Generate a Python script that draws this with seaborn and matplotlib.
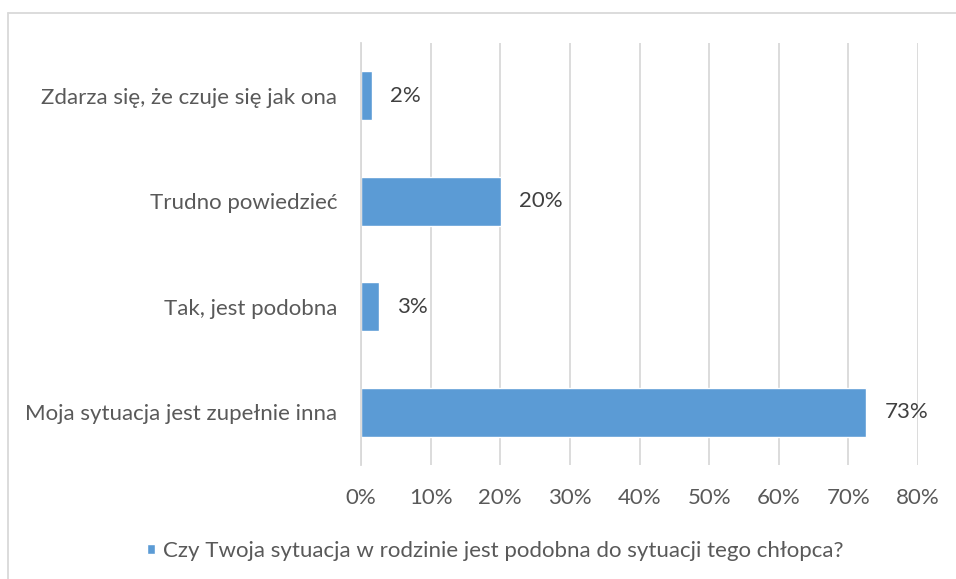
import matplotlib
matplotlib.use("Agg")
import matplotlib.pyplot as plt
import matplotlib.lines as mlines
from matplotlib.ticker import FixedLocator, FuncFormatter
import seaborn as sns

# Données (en %)
categories = [
    "Zdarza się, że czuje się jak ona",
    "Trudno powiedzieć",
    "Tak, jest podobna",
    "Moja sytuacja jest zupełnie inna",
]
values = [1.6, 20.1, 2.6, 72.6]
x_ticks = [0, 10, 20, 30, 40, 50, 60, 70, 80]
legend_label = "Czy Twoja sytuacja w rodzinie jest podobna do sytuacji tego chłopca?"

BAR_COLOR = "#5B9BD5"
GRID_COLOR = "#D9D9D9"
TEXT_COLOR = "#595959"
LABEL_COLOR = "#404040"
FS = 16

sns.set_theme(style="white")
plt.rcParams["font.family"] = ["Lato", "DejaVu Sans"]

W, H = 956, 579
fig = plt.figure(figsize=(W / 100, H / 100), dpi=100)
ax = fig.add_axes([361 / W, 1 - 465 / H, (918 - 361) / W, (465 - 43) / H])

sns.barplot(x=values, y=categories, orient="h", color=BAR_COLOR,
            width=0.46, ax=ax, label=legend_label, saturation=1)
handles, labels = ax.get_legend_handles_labels()
if ax.get_legend() is not None:
    ax.get_legend().remove()

ax.set_xlim(0, 80)
ax.set_ylim(3.5, -0.5)
ax.xaxis.set_major_locator(FixedLocator(x_ticks))
ax.xaxis.set_major_formatter(FuncFormatter(lambda v, p: f"{v:.0f}%"))
ax.set_axisbelow(True)
ax.grid(axis="x", color=GRID_COLOR, lw=1.3)
ax.grid(axis="y", visible=False)

for side in ["top", "right", "bottom"]:
    ax.spines[side].set_visible(False)
ax.spines["left"].set_color(GRID_COLOR)
ax.spines["left"].set_linewidth(1.3)

ax.tick_params(axis="x", length=0, pad=16.5, labelsize=FS, labelcolor=TEXT_COLOR)
ax.tick_params(axis="y", which="major", length=0, pad=17, labelsize=FS, labelcolor=TEXT_COLOR)
ax.yaxis.set_minor_locator(FixedLocator([-0.5, 0.5, 1.5, 2.5, 3.5]))
ax.tick_params(axis="y", which="minor", length=4.5, width=1.3, color=GRID_COLOR)
ax.set_xlabel("")
ax.set_ylabel("")

ax.bar_label(ax.containers[0], labels=[f"{v:.0f}%" for v in values],
             padding=13, fontsize=FS, color=LABEL_COLOR)

# légende en bas
fig.legend(handles, labels, loc="center left", bbox_to_anchor=(147 / W, 1 - 551 / H),
           frameon=False, fontsize=FS, labelcolor=TEXT_COLOR, borderpad=0,
           borderaxespad=0, handlelength=0.36, handleheight=0.36, handletextpad=0.36)

# cadre du graphique (coupé à droite et en bas)
fig.add_artist(mlines.Line2D([8 / W, 8 / W], [0, 1 - 13 / H], color=GRID_COLOR, lw=1.3))
fig.add_artist(mlines.Line2D([8 / W, 1], [1 - 13 / H, 1 - 13 / H], color=GRID_COLOR, lw=1.3))

fig.savefig("out.png", dpi=100, facecolor="white")
